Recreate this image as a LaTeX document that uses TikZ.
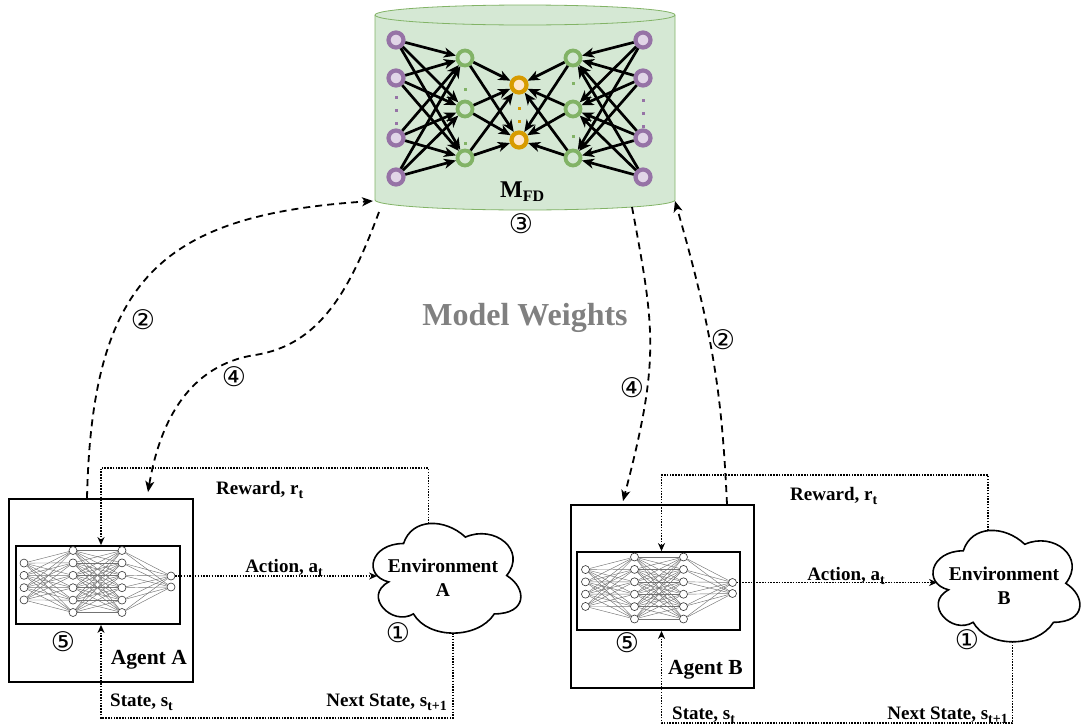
\documentclass[tikz,border=0pt]{standalone}
\usepackage{fontspec}
\setmainfont{Liberation Serif}
\newfontfamily\circfont{DejaVu Sans}
\usetikzlibrary{arrows.meta,calc}

\definecolor{purpleline}{HTML}{9673A6}
\definecolor{purplefill}{HTML}{E1D5E7}
\definecolor{greenline}{HTML}{82B366}
\definecolor{greenfill}{HTML}{D5E8D4}
\definecolor{orangeline}{HTML}{D79B00}
\definecolor{orangefill}{HTML}{FFE6CC}
\definecolor{weightgray}{HTML}{808080}

\pgfdeclarelayer{wires}
\pgfsetlayers{wires,main}

% lowered bold subscript for the signal labels
\newcommand\sbs[1]{\raisebox{-4pt}{\fontsize{14}{14}\selectfont\bfseries #1}}

\tikzset{
  neuron/.style={circle, draw=black!80, fill=white, line width=0.6pt, inner sep=0pt, minimum size=8pt},
  wire/.style={draw=black!55, line width=0.45pt},
  agentbox/.style={draw, line width=1.8pt, inner sep=0pt},
  netbox/.style={draw, line width=1.8pt, inner sep=0pt},
  flow/.style={line width=1.5pt, dash pattern=on 1.5pt off 1.3pt, -{Stealth[length=8pt,width=7pt,inset=2.5pt]}},
  sync/.style={line width=1.8pt, dash pattern=on 7pt off 5pt, -{Stealth[length=11pt,width=9pt,inset=3pt]}},
  marrow/.style={line width=2.7pt, -{Stealth[length=12pt,width=10pt,inset=3.5pt]}},
  pnode/.style={circle, draw=purpleline, fill=purplefill, line width=4.2pt, minimum size=15pt, inner sep=0pt},
  gnode/.style={circle, draw=greenline, fill=greenfill, line width=3.8pt, minimum size=15pt, inner sep=0pt},
  onode/.style={circle, draw=orangeline, fill=orangefill, line width=4.2pt, minimum size=15pt, inner sep=0pt},
  lbl/.style={font=\fontsize{19}{21}\selectfont\bfseries, inner sep=0pt},
  envtext/.style={font=\fontsize{19.5}{24}\selectfont\bfseries, align=center, inner sep=0pt},
  agenttext/.style={font=\fontsize{21.5}{22}\selectfont\bfseries, inner sep=0pt},
  circ/.style={font=\circfont\fontsize{27}{27}\selectfont, inner sep=0pt},
}

% fully connected 4-6-6-2 network inside an agent
\newcommand\smallnet[3]{%
  \begin{scope}[shift={(#2,#3)}]
    \foreach \l/\x/\n/\s in {1/24/4/12.3, 2/73/6/12.4, 3/122/6/12.4, 4/171/2/11}{
      \foreach \i in {1,...,\n}{
        \node[neuron] (#1\l-\i) at (\x, {581.5 + (\i - (\n+1)/2)*\s}) {};
      }
    }
    \begin{pgfonlayer}{wires}
      \foreach \a/\na/\b/\nb in {1/4/2/6, 2/6/3/6, 3/6/4/2}{
        \foreach \i in {1,...,\na}{
          \foreach \j in {1,...,\nb}{
            \draw[wire] (#1\a-\i) -- (#1\b-\j);
          }
        }
      }
    \end{pgfonlayer}
  \end{scope}}

% cloud outline in a w x h frame with top-left corner (x0,y0);
% also names its top, bottom and left border points
\newcommand\cloudshape[5]{%
  \begin{scope}[shift={(#2,#3)}, x=#4pt, y=-#5pt]
    \draw[line width=1.6pt, fill=white]
      (0.25,0.25) .. controls (0.05,0.25) and (0,0.5) .. (0.16,0.55)
      .. controls (0,0.66) and (0.18,0.9) .. (0.31,0.8)
      .. controls (0.4,1) and (0.7,1) .. (0.8,0.8)
      .. controls (1,0.8) and (1,0.6) .. (0.875,0.5)
      .. controls (1,0.3) and (0.8,0.1) .. (0.625,0.2)
      .. controls (0.5,0.05) and (0.3,0.05) .. (0.25,0.25) -- cycle;
    \coordinate (#1top) at (0.4,0.095);
    \coordinate (#1bot) at (0.55,0.95);
    \coordinate (#1left) at (0.09,0.5);
  \end{scope}}

\begin{document}
\begin{tikzpicture}[x=1pt, y=-1pt]
\useasboundingbox (0,0) rectangle (1084,726);

% ---------- shared model store ----------
\path[draw=greenline, fill=greenfill, line width=0.8pt]
  (375,15) -- (375,200)
  arc[start angle=180, end angle=0, x radius=150, y radius=10]
  -- (675,15)
  arc[start angle=0, end angle=-180, x radius=150, y radius=10] -- cycle;
\draw[greenline, line width=0.8pt]
  (375,15) arc[start angle=180, end angle=0, x radius=150, y radius=10];
\coordinate (mfdBL) at (373,201);
\coordinate (mfdBR) at (675,201);
\coordinate (mfdOutA) at (379,212);
\coordinate (mfdOutB) at (632,207);

\foreach \y [count=\i] in {40,78,138,177}{
  \node[pnode] (mP\i) at (396,\y) {};
  \node[pnode] (mQ\i) at (643,\y) {};
}
\foreach \y [count=\i] in {58,109,158}{
  \node[gnode] (mG\i) at (465,\y) {};
  \node[gnode] (mH\i) at (573,\y) {};
}
\foreach \y [count=\i] in {85,140}
  \node[onode] (mO\i) at (519,\y) {};

\foreach \i in {1,...,4}{
  \foreach \j in {1,2,3}{
    \draw[marrow] (mP\i) -- (mG\j);
    \draw[marrow] (mQ\i) -- (mH\j);
  }
}
\foreach \i in {1,2,3}{
  \foreach \j in {1,2}{
    \draw[marrow] (mG\i) -- (mO\j);
    \draw[marrow] (mH\i) -- (mO\j);
  }
}

% ellipsis dots between neurons
\foreach \y in {97,110,123} \fill[purpleline] (394.5,\y-1.5) rectangle ++(3,3);
\foreach \y in {100,113,126} \fill[purpleline] (641.5,\y-1.5) rectangle ++(3,3);
\foreach \y in {89,143} \fill[greenline] (463.5,\y-1.5) rectangle ++(3,3);
\foreach \y in {83,136} \fill[greenline] (571.5,\y-1.5) rectangle ++(3,3);
\foreach \y in {108,121} \fill[orangeline] (517.5,\y-1.5) rectangle ++(3,3);

\node[anchor=base west, inner sep=0pt] (mfdname) at (500,197)
  {\fontsize{24}{24}\selectfont\bfseries M\raisebox{-4.5pt}{\fontsize{16}{16}\selectfont FD}};
\node[circ] (n3) at (521,224) {③};

\node[font=\fontsize{32}{32}\selectfont\bfseries, text=weightgray] (mw) at (525,318) {Model Weights};

% ---------- agent A ----------
\node[agentbox, minimum width=184pt, minimum height=183pt] (agentA) at (101,590.5) {};
\node[netbox, minimum width=164pt, minimum height=78pt] (nnA) at (98,585) {};
\smallnet{A}{0}{0}
\node[circ] (n5A) at (63,642) {⑤};
\node[agenttext, anchor=base east] (agentAname) at (187,664) {Agent A};

\cloudshape{envA}{362.3}{511.5}{165}{128}
\node[envtext] (envA) at (443,578) {Environment\\A};
\node[circ] (n1A) at (398,633) {①};

\coordinate (rtopA) at (0,468);
\coordinate (rbotA) at (0,718);
\draw[flow] (envAtop) |- ([xshift=3pt]nnA.north |- rtopA) -- ([xshift=3pt]nnA.north);
\draw[flow] (envAbot) |- ([xshift=3pt]nnA.south |- rbotA) -- ([xshift=3pt]nnA.south);
\draw[flow] (A4-1.east) -- (A4-1.east -| envAleft);

\node[lbl, anchor=base west] (rewA) at (216,494) {Reward, r\sbs{t}};
\node[lbl, anchor=base] (actA) at (284,572) {Action, a\sbs{t}};
\node[lbl, anchor=base west] (stA) at (110,706) {State, s\sbs{t}};
\node[lbl, anchor=base east] (nstA) at (447,706) {Next State, s\sbs{t+1}};

% ---------- agent B ----------
\node[agentbox, minimum width=183pt, minimum height=183pt] (agentB) at (662.5,596.5) {};
\node[netbox, minimum width=163pt, minimum height=78pt] (nnB) at (658.5,591) {};
\smallnet{B}{561.5}{6.5}
\node[circ] (n5B) at (627,643) {⑤};
\node[agenttext, anchor=base east] (agentBname) at (743,674) {Agent B};

\cloudshape{envB}{922.3}{518.3}{164}{130}
\node[envtext] (envB) at (1004,586) {Environment\\B};
\node[circ] (n1B) at (967,640) {①};

\coordinate (rtopB) at (0,475);
\coordinate (rbotB) at (0,723);
\draw[flow] (envBtop) |- ([xshift=3pt]nnB.north |- rtopB) -- ([xshift=3pt]nnB.north);
\draw[flow] (envBbot) |- ([xshift=3pt]nnB.south |- rbotB) -- ([xshift=3pt]nnB.south);
\draw[flow] (B4-1.east) -- (B4-1.east -| envBleft);

\node[lbl, anchor=base west] (rewB) at (790,500) {Reward, r\sbs{t}};
\node[lbl, anchor=base] (actB) at (846,580) {Action, a\sbs{t}};
\node[lbl, anchor=base west] (stB) at (672,719) {State, s\sbs{t}};
\node[lbl, anchor=base east] (nstB) at (1008,719) {Next State, s\sbs{t+1}};

% ---------- weight exchange ----------
\draw[sync] ([xshift=-14pt]agentA.north) .. controls (92,280) and (160,215) .. (mfdBL);
\draw[sync] (mfdOutA) .. controls (350,290) and (320,345) .. (255,355)
  .. controls (190,365) and (160,420) .. ([xshift=47pt,yshift=6pt]agentA.north);
\draw[sync] (mfdOutB) .. controls (655,330) and (660,360) .. ([xshift=-39.5pt,yshift=3pt]agentB.north);
\draw[sync] ([xshift=64.5pt]agentB.north) .. controls (722,400) and (715,340) .. (mfdBR);

\node[circ] (n2A) at (143,320) {②};
\node[circ] (n4A) at (234,377) {④};
\node[circ] (n4B) at (632,388) {④};
\node[circ] (n2B) at (723,340) {②};
\end{tikzpicture}
\end{document}
